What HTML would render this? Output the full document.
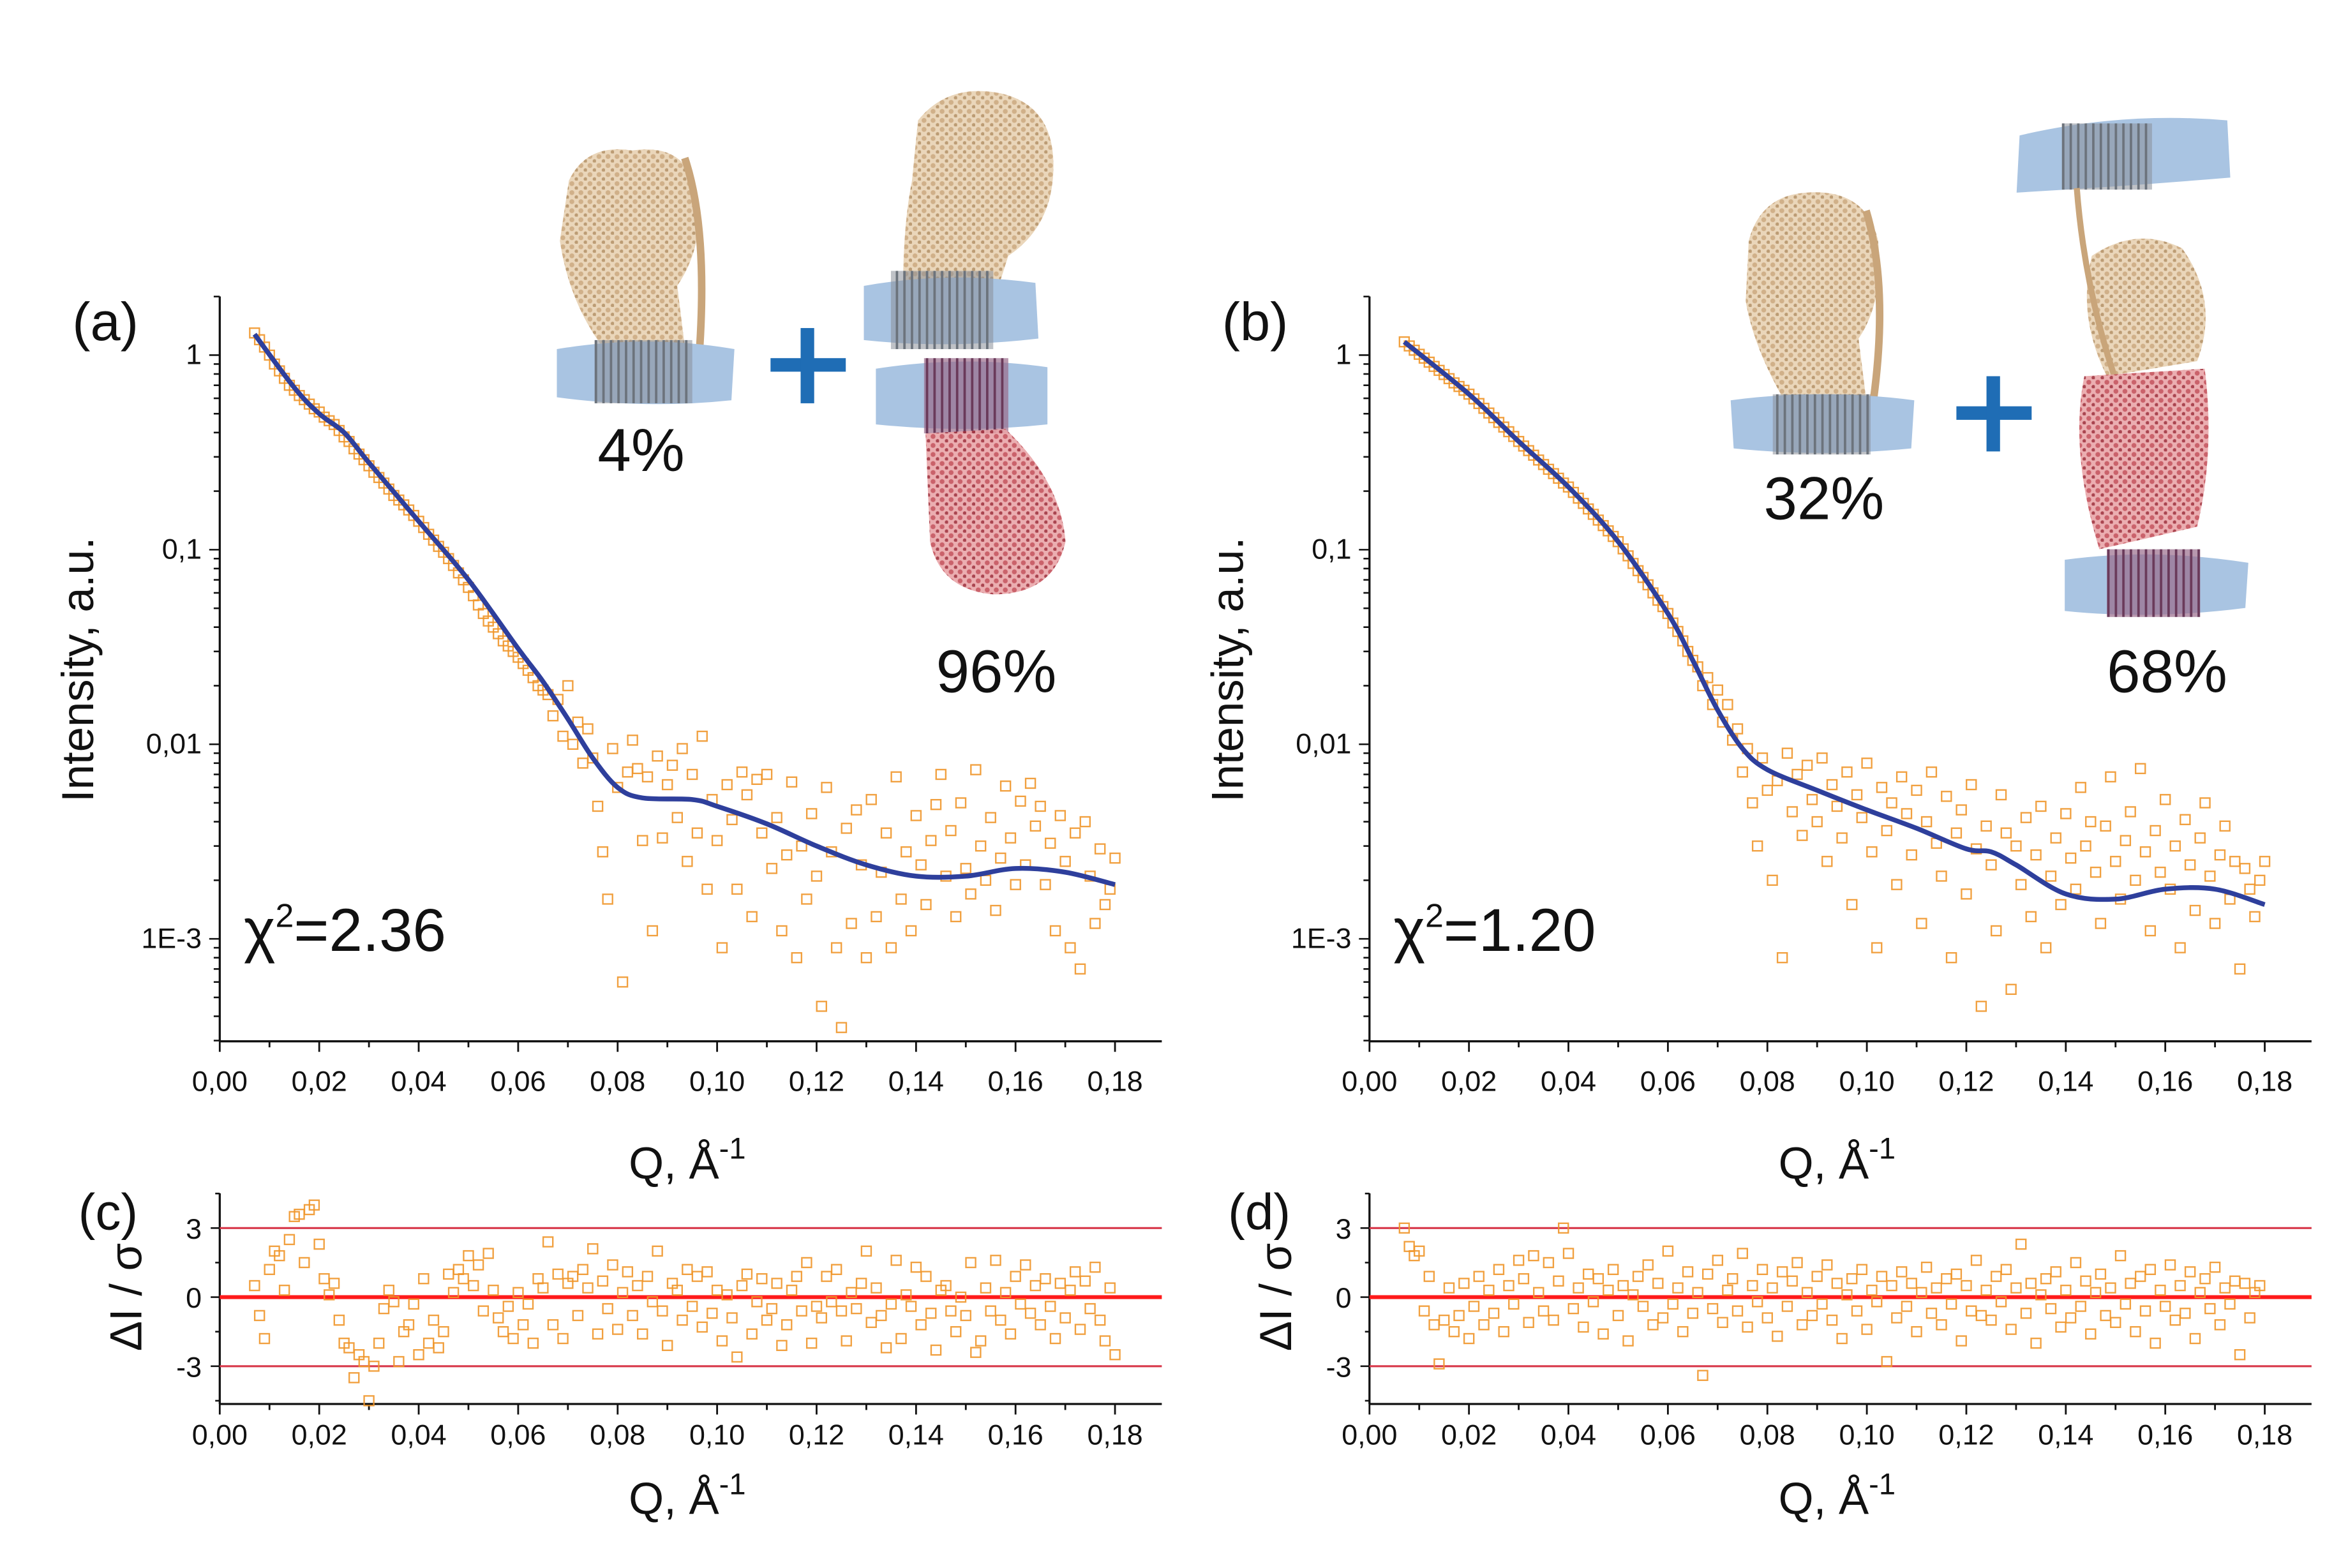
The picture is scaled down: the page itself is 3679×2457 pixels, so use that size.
<!DOCTYPE html>
<html><head><meta charset="utf-8">
<style>
html,body{margin:0;padding:0;background:#fff;}
svg{display:block;}
text{font-family:"Liberation Sans",sans-serif;fill:#111;}
</style></head>
<body>
<svg id="fig" width="3679" height="2457" viewBox="0 0 1560.2 1042" xmlns="http://www.w3.org/2000/svg">
<defs>
<pattern id="grey" width="5" height="6" patternUnits="userSpaceOnUse"><rect width="5" height="6" fill="#8a9098" opacity="0.55"/><line x1="1" y1="0" x2="1" y2="6" stroke="#6c737c" stroke-width="1.6"/></pattern>
<pattern id="tan" width="6" height="6" patternUnits="userSpaceOnUse"><rect width="6" height="6" fill="#e6cfae"/><circle cx="2" cy="2" r="1.6" fill="#c8a274"/><circle cx="5" cy="5" r="1.2" fill="#b08a5c"/></pattern>
<pattern id="red" width="6" height="6" patternUnits="userSpaceOnUse"><rect width="6" height="6" fill="#e9a5a8"/><circle cx="2" cy="2" r="1.6" fill="#c4505a"/><circle cx="5" cy="5" r="1.2" fill="#a0303c"/></pattern>
<pattern id="purp" width="5" height="6" patternUnits="userSpaceOnUse"><rect width="5" height="6" fill="#9a6c8c" opacity="0.7"/><line x1="1" y1="0" x2="1" y2="6" stroke="#6a3a5a" stroke-width="1.6"/></pattern>
</defs>

<g>
<path d="M378 120 Q390 95 420 100 Q455 95 462 125 Q470 160 450 190 L455 230 L400 230 Q378 200 372 160 Z" fill="url(#tan)" opacity="0.85"/>
<path d="M455 105 Q470 150 465 230" stroke="#c9a57a" stroke-width="5" fill="none"/>
<path d="M370 232 Q430 222 488 232 L486 266 Q430 272 370 264 Z" fill="#a9c4e2"/>
<rect x="395" y="226" width="65" height="42" fill="url(#grey)"/>
</g>
<text x="426" y="313" font-size="40" text-anchor="middle">4%</text>
<g><rect x="512" y="238" width="50" height="9" fill="#1f6db5"/><rect x="532" y="218" width="9" height="50" fill="#1f6db5"/></g>
<g>
<path d="M610 80 Q630 55 665 62 Q700 70 700 110 Q700 150 670 170 L662 195 L600 195 Q600 150 606 120 Z" fill="url(#tan)" opacity="0.85"/>
<path d="M574 190 Q630 180 688 188 L690 225 Q630 232 574 226 Z" fill="#a9c4e2"/>
<rect x="592" y="180" width="68" height="52" fill="url(#grey)"/>
<path d="M582 245 Q640 236 696 244 L696 282 Q640 288 582 282 Z" fill="#a9c4e2"/>
<rect x="614" y="238" width="56" height="50" fill="url(#purp)"/>
<path d="M615 288 L668 285 Q705 320 708 360 Q700 395 660 395 Q625 392 618 360 Z" fill="url(#red)" opacity="0.9"/>
</g>
<text x="662" y="460" font-size="40" text-anchor="middle">96%</text>

<g>
<path d="M1162 160 Q1170 130 1200 128 Q1240 125 1248 160 Q1252 200 1235 225 L1240 265 L1185 265 Q1165 230 1160 200 Z" fill="url(#tan)" opacity="0.85"/>
<path d="M1240 140 Q1255 190 1245 265" stroke="#c9a57a" stroke-width="5" fill="none"/>
<path d="M1150 266 Q1210 258 1272 266 L1270 298 Q1210 304 1152 298 Z" fill="#a9c4e2"/>
<rect x="1178" y="262" width="65" height="40" fill="url(#grey)"/>
</g>
<text x="1212" y="345" font-size="40" text-anchor="middle">32%</text>
<g><rect x="1300" y="270" width="50" height="9" fill="#1f6db5"/><rect x="1320" y="250" width="9" height="50" fill="#1f6db5"/></g>
<g>
<path d="M1342 90 Q1410 74 1480 80 L1482 118 Q1410 124 1340 128 Z" fill="#a9c4e2"/>
<rect x="1370" y="82" width="60" height="44" fill="url(#grey)"/>
<path d="M1390 170 Q1420 150 1450 165 Q1475 200 1460 240 L1400 250 Q1380 210 1390 170 Z" fill="url(#tan)" opacity="0.85"/>
<path d="M1380 125 Q1385 190 1405 250" stroke="#c9a57a" stroke-width="4" fill="none"/>
<path d="M1385 250 L1465 245 Q1472 300 1460 350 L1395 365 Q1375 300 1385 250 Z" fill="url(#red)" opacity="0.9"/>
<path d="M1372 372 Q1430 364 1494 374 L1492 404 Q1430 412 1372 406 Z" fill="#a9c4e2"/>
<rect x="1400" y="365" width="62" height="45" fill="url(#purp)"/>
</g>
<text x="1440" y="460" font-size="40" text-anchor="middle">68%</text>

<g id="plots"></g>
</svg>
<script>
const qStart = 0.007, qStep = 0.001, qCount = 174;
const xTicks = ["0,00","0,02","0,04","0,06","0,08","0,10","0,12","0,14","0,16","0,18"];
const yTickVals = [1, 0.1, 0.01, 0.001];
const yTickLabels = ["1","0,1","0,01","1E-3"];
const resTickVals = [3, 0, -3];
const resTickLabels = ["3","0","-3"];

const intensityA = [1.30,1.20,1.10,1.00,0.90,0.83,0.76,0.70,0.66,0.62,0.59,0.56,0.53,0.51,0.48,0.46,0.44,0.41,0.38,0.36,0.33,0.31,0.29,0.27,0.25,0.235,0.22,0.205,0.19,0.18,0.17,0.16,0.15,0.14,0.13,0.12,0.112,0.104,0.097,0.09,0.083,0.076,0.07,0.064,0.058,0.052,0.047,0.043,0.04,0.037,0.034,0.032,0.030,0.028,0.026,0.024,0.022,0.020,0.019,0.018,0.014,0.017,0.011,0.020,0.010,0.013,0.008,0.012,
0.0085,0.0048,0.0028,0.0016,0.0095,0.0060,0.00060,0.0072,0.0105,0.0075,0.0032,0.0068,0.0011,0.0087,0.0033,0.0062,0.0078,0.0042,0.0095,0.0025,0.0070,0.0035,0.0110,0.0018,0.0052,0.0032,0.0009,0.0062,0.0041,0.0018,0.0072,0.0055,0.0013,0.0066,0.0035,0.0070,0.0023,0.0042,0.0011,0.0027,0.0064,0.0008,0.0030,0.0016,0.0044,0.0021,0.00045,0.0060,0.0028,0.0009,0.00035,0.0037,0.0012,0.0046,0.0024,0.0008,0.0052,0.0013,0.0022,0.0035,0.0009,0.0068,0.0016,0.0028,0.0011,0.0043,0.0024,0.0015,0.0032,0.0049,0.0070,0.0021,0.0036,0.0013,0.0050,0.0023,0.0017,0.0074,0.0030,0.0020,0.0042,0.0014,0.0026,0.0061,0.0033,0.0019,0.0051,0.0024,0.0063,0.0038,0.0048,0.0019,0.0031,0.0011,0.0043,0.0025,0.0009,0.0035,0.0007,0.0040,0.0021,0.0012,0.0029,0.0015,0.0018,0.0026];
const fitQA = [0.007,0.015,0.02,0.025,0.03,0.04,0.05,0.06,0.065,0.07,0.075,0.08,0.085,0.095,0.10,0.11,0.12,0.13,0.14,0.15,0.16,0.17,0.18];
const fitIA = [1.28,0.68,0.50,0.40,0.28,0.14,0.07,0.031,0.021,0.0135,0.0085,0.0060,0.0053,0.0052,0.0048,0.0039,0.0030,0.0024,0.0021,0.0021,0.0023,0.0022,0.0019];

const intensityB = [1.17,1.115,1.06,1.01,0.965,0.92,0.875,0.835,0.795,0.757,0.72,0.69,0.66,0.63,
0.596,0.564,0.533,0.504,0.477,0.451,0.427,0.404,0.382,0.36,
0.341,0.323,0.306,0.289,0.274,0.259,0.246,0.233,0.22,0.21,
0.197,0.184,0.173,0.162,0.152,0.142,0.133,0.125,0.117,0.11,
0.101,0.093,0.085,0.078,0.072,0.066,0.06,0.055,0.051,0.047,
0.042,0.038,0.034,0.030,0.027,
0.025,0.020,0.022,0.016,0.019,0.013,0.016,0.0105,0.012,
0.0072,0.0095,0.0050,0.0030,0.0085,0.0058,0.0020,0.0065,0.0008,0.0090,0.0045,0.0070,0.0034,0.0078,0.0052,0.0040,0.0085,0.0025,0.0062,0.0048,0.0033,0.0072,0.0015,0.0055,0.0042,0.0080,0.0028,0.0009,0.0060,0.0036,0.0050,0.0019,0.0068,0.0044,0.0027,0.0058,0.0012,0.0040,0.0072,0.0031,0.0021,0.0054,0.0008,0.0035,0.0046,0.0017,0.0062,0.0029,0.00045,0.0038,0.0024,0.0011,0.0055,0.0035,0.00055,0.0030,0.0019,0.0042,0.0013,0.0027,0.0048,0.0009,0.0021,0.0033,0.0015,0.0044,0.0026,0.0018,0.0060,0.0030,0.0040,0.0022,0.0012,0.0038,0.0068,0.0025,0.0016,0.0032,0.0045,0.0020,0.0075,0.0028,0.0011,0.0036,0.0022,0.0052,0.0018,0.0030,0.0009,0.0041,0.0024,0.0014,0.0033,0.0050,0.0021,0.0012,0.0027,0.0038,0.0016,0.0025,0.0007,0.0023,0.0018,0.0013,0.0020,0.0025];
const fitQB = [0.007,0.02,0.03,0.04,0.05,0.06,0.065,0.07,0.075,0.08,0.09,0.10,0.11,0.12,0.125,0.13,0.14,0.15,0.16,0.17,0.18];
const fitIB = [1.17,0.63,0.36,0.21,0.11,0.047,0.027,0.015,0.0095,0.0074,0.0058,0.0046,0.0037,0.0029,0.0028,0.0024,0.0017,0.0016,0.0018,0.0018,0.0015];

const residualC = [0.5,-0.8,-1.8,1.2,2.0,1.8,0.3,2.5,3.5,3.6,1.5,3.8,4.0,2.3,
0.8,0.1,0.6,-1.0,-2.0,-2.2,-3.5,-2.5,-2.8,-4.5,-3.0,-2.0,-0.5,0.3,-0.2,-2.8,-1.5,-1.2,-0.3,-2.5,0.8,-2.0,-1.0,-2.2,-1.5,
1.0,0.2,1.2,0.8,1.8,0.5,1.4,-0.6,1.9,0.3,-0.9,-1.5,-0.4,-1.8,0.2,-1.2,-0.3,-2.0,0.8,0.4,2.4,-1.2,1.0,-1.8,0.6,0.9,-0.8,1.2,0.4,2.1,-1.6,0.7,-0.5,1.4,-1.4,0.2,1.1,-0.8,0.5,-1.6,0.9,-0.2,2.0,-0.6,-2.1,0.6,0.3,-1.0,1.2,-0.4,0.9,-1.3,1.1,-0.7,0.3,-1.9,0.1,-0.9,-2.6,0.5,1.0,-1.6,-0.2,0.8,-1.0,-0.5,0.6,-2.1,-1.2,0.3,0.9,-0.6,1.5,-2.0,-0.4,-0.9,0.9,-0.2,1.2,-0.6,-1.9,0.2,-0.5,0.6,2.0,-1.1,0.4,-0.8,-2.2,-0.3,1.6,-1.8,0.1,-0.4,1.3,-1.2,0.9,-0.7,-2.3,0.3,0.5,-0.6,-1.5,0.0,
-0.8,1.5,-2.4,-1.9,0.4,-0.6,1.6,-1.0,0.2,-1.6,0.9,-0.3,1.4,-0.7,0.5,-1.2,0.8,-0.4,-1.8,0.6,-0.9,0.3,1.1,-1.4,0.7,-0.5,1.3,-1.0,-1.9,0.4,-2.5,-0.6,0.2,-1.1,0.6,-0.8,0.3,0.1];

const residualD = [3.0,2.2,1.8,2.0,-0.6,0.9,-1.2,-2.9,-1.0,0.4,-1.5,-0.8,0.6,-1.8,-0.4,0.9,-1.2,0.3,-0.7,1.2,-1.5,0.5,-0.3,1.6,0.8,-1.1,1.8,0.2,-0.6,1.5,-1.0,0.7,3.0,1.9,-0.5,0.4,-1.3,1.0,-0.2,0.8,-1.6,0.3,1.2,-0.8,0.5,-1.9,0.1,0.9,-0.4,1.4,-1.2,0.6,-0.9,2.0,-0.3,0.4,-1.5,1.1,-0.7,0.2,-3.4,1.0,-0.5,1.6,-1.1,0.3,0.8,-0.6,1.9,-1.3,0.5,-0.2,1.2,-0.9,0.4,-1.7,1.1,-0.4,0.7,1.5,-1.2,0.2,-0.8,0.9,-0.3,1.4,-1.0,0.6,-1.8,0.1,0.8,-0.6,1.2,-1.4,0.3,-0.2,0.9,-2.8,0.5,-0.9,1.1,-0.4,0.6,-1.5,0.2,1.3,-0.7,0.4,-1.2,0.8,-0.3,1.0,-1.9,0.5,-0.6,1.6,-0.8,0.3,-1.0,0.9,-0.2,1.2,-1.4,0.4,2.3,-0.7,0.6,-2.0,0.1,0.8,-0.5,1.1,-1.3,0.3,-0.9,1.5,-0.4,0.7,-1.6,0.2,1.0,-0.8,0.4,-1.1,1.8,-0.3,0.6,-1.5,0.9,-0.6,1.2,-2.0,0.3,-0.4,1.4,-1.0,0.5,-0.7,1.1,-1.8,0.2,0.8,-0.5,1.3,-1.2,0.4,-0.3,0.7,-2.5,0.6,-0.9,0.2,0.5];

const NS = "http://www.w3.org/2000/svg";
const root = document.getElementById("plots");
function mk(tag, attrs, parent){const e=document.createElementNS(NS,tag);for(const k in attrs)e.setAttribute(k,attrs[k]);(parent||root).appendChild(e);return e;}
function qAt(i){return qStart + i*qStep;}

function axesX(x0){return q => x0 + q/0.02*66.1;}
function logY(v){return 236 - 129.3*Math.log10(v);}
function resY(r){return 862 - 15.3*r;}

function smoothPath(pts){
  let d="M"+pts[0][0].toFixed(2)+" "+pts[0][1].toFixed(2);
  for(let i=0;i<pts.length-1;i++){
    const p0=pts[Math.max(0,i-1)],p1=pts[i],p2=pts[i+1],p3=pts[Math.min(pts.length-1,i+2)];
    const c1=[p1[0]+(p2[0]-p0[0])/6,p1[1]+(p2[1]-p0[1])/6];
    const c2=[p2[0]-(p3[0]-p1[0])/6,p2[1]-(p3[1]-p1[1])/6];
    d+=" C"+c1[0].toFixed(2)+" "+c1[1].toFixed(2)+" "+c2[0].toFixed(2)+" "+c2[1].toFixed(2)+" "+p2[0].toFixed(2)+" "+p2[1].toFixed(2);
  }
  return d;
}

function xAxis(g, X, yAxis, labelY, titleY){
  mk("line",{x1:X(0),y1:yAxis,x2:X(0)+626,y2:yAxis,stroke:"#111","stroke-width":1.4},g);
  for(let i=0;i<=18;i++){
    const x=X(i*0.01);
    mk("line",{x1:x,y1:yAxis,x2:x,y2:yAxis+(i%2?4:7),stroke:"#111","stroke-width":1.2},g);
  }
  xTicks.forEach((t,i)=>{
    const tx=mk("text",{x:X(i*0.02),y:labelY,"font-size":19,"text-anchor":"middle"},g);
    tx.textContent=t;
    
    
  });
  const tt=mk("text",{x:X(0.094),y:titleY,"font-size":30,"text-anchor":"middle"},g);
  tt.innerHTML='Q, Å<tspan dy="-13" font-size="20">-1</tspan>';
  
  
}

function mainPanel(name, x0, intens, fitQ, fitI, chi, letter){
  const g=mk("g",{});
  
  
  const X=axesX(x0);
  mk("line",{x1:x0,y1:197,x2:x0,y2:692,stroke:"#111","stroke-width":1.4},g);
  for(let dec=-4;dec<=0;dec++){
    for(let m=1;m<10;m++){
      const v=m*Math.pow(10,dec); const y=logY(v);
      if(y<197||y>692) continue;
      mk("line",{x1:x0,y1:y,x2:x0-(m===1?7:4),y2:y,stroke:"#111","stroke-width":1.1},g);
    }
  }
  yTickVals.forEach((v,i)=>{
    const t=mk("text",{x:x0-12,y:logY(v)+6,"font-size":19,"text-anchor":"end"},g);
    t.textContent=yTickLabels[i];
    
    
  });
  xAxis(g,X,692,725,783);
  const yt=mk("text",{x:0,y:0,"font-size":30,"text-anchor":"middle",transform:`translate(${x0-84},445) rotate(-90)`},g);
  yt.textContent="Intensity, a.u.";
  
  
  const lt=mk("text",{x:x0-98,y:226,"font-size":36},g);
  lt.textContent=letter;
  
  
  const ct=mk("text",{x:x0+16,y:632,"font-size":40},g);
  ct.innerHTML='χ<tspan dy="-16" font-size="22">2</tspan><tspan dy="16">='+chi+'</tspan>';
  
  
  const n=Math.min(qCount,intens.length);
  for(let i=0;i<n;i++){
    const x=X(qAt(i)), y=logY(intens[i]);
    if(y>690||y<198) continue;
    const r=mk("rect",{x:x-3.2,y:y-3.2,width:6.4,height:6.4,fill:"none",stroke:"#f0962a","stroke-width":1,opacity:0.9},g);
    
    
  }
  const pts=fitQ.map((q,i)=>[X(q),logY(fitI[i])]);
  const p=mk("path",{d:smoothPath(pts),fill:"none",stroke:"#2e3f9c","stroke-width":3.2},g);
  
  
}

function resPanel(name, x0, res, letter){
  const g=mk("g",{});
  
  
  const X=axesX(x0);
  mk("line",{x1:x0,y1:793,x2:x0,y2:933,stroke:"#111","stroke-width":1.4},g);
  [-4.5,-3,-1.5,0,1.5,3,4.5].forEach(v=>{const y=resY(v); if(y>=793&&y<=933) mk("line",{x1:x0,y1:y,x2:x0-(v%3===0?6:3),y2:y,stroke:"#111","stroke-width":1.1},g);});
  resTickVals.forEach((v,i)=>{
    const t=mk("text",{x:x0-12,y:resY(v)+7,"font-size":19,"text-anchor":"end"},g);
    t.textContent=resTickLabels[i];
    
    
  });
  [3,-3].forEach(v=>{const l=mk("line",{x1:x0,y1:resY(v),x2:x0+626,y2:resY(v),stroke:"#d8384a","stroke-width":1.3},g);
    
    });
  const z=mk("line",{x1:x0,y1:resY(0),x2:x0+626,y2:resY(0),stroke:"#ff1a1a","stroke-width":2.6},g);
  
  
  xAxis(g,X,933,960,1006);
  const yt=mk("text",{x:0,y:0,"font-size":30,"text-anchor":"middle",transform:`translate(${x0-52},862) rotate(-90)`},g);
  yt.textContent="ΔI / σ";
  
  
  const lt=mk("text",{x:x0-94,y:817,"font-size":34},g);
  lt.textContent=letter;
  
  
  const n=Math.min(qCount,res.length);
  for(let i=0;i<n;i++){
    const x=X(qAt(i)), y=resY(res[i]);
    const r=mk("rect",{x:x-3.2,y:y-3.2,width:6.4,height:6.4,fill:"none",stroke:"#f0962a","stroke-width":1,opacity:0.9},g);
    
    
  }
}

mainPanel("panel-a",146,intensityA,fitQA,fitIA,"2.36","(a)");
mainPanel("panel-b",910,intensityB,fitQB,fitIB,"1.20","(b)");
resPanel("panel-c",146,residualC,"(c)");
resPanel("panel-d",910,residualD,"(d)");
</script>
</body></html>
